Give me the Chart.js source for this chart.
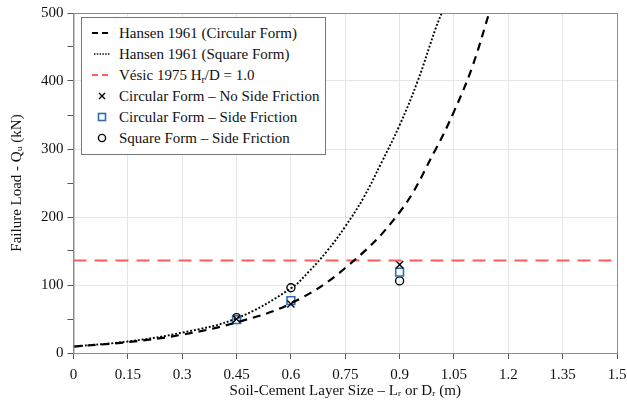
<!DOCTYPE html>
<html lang="en">
<head>
<meta charset="UTF-8">
<title>Failure load vs soil-cement layer size</title>
<script src="https://cdn.jsdelivr.net/npm/chart.js@4.4.1/dist/chart.umd.min.js"></script>
<style>
    body { margin: 0; background: #fff; }
    #wrap { position: relative; width: 627px; height: 400px; }
    #legend {
        position: absolute; left: 81px; top: 17px; width: 243px; height: 136px;
        border: 1px solid #777; background: #fff;
        font-family: "Liberation Serif", serif; font-size: 15px; color: #111;
    }
    #legend .row { position: absolute; left: 0; height: 20px; line-height: 20px; white-space: nowrap; }
    #legend svg { position: absolute; left: 10px; top: 4px; }
    #legend span { position: absolute; left: 37px; }
    #legend sub { font-size: 10px; vertical-align: -3px; line-height: 0; }
</style>
</head>
<body>
<div id="wrap">
    <canvas id="myChart" width="627" height="400"></canvas>
    <div id="legend"></div>
</div>
<script>
// layer size (m) and Hansen 1961 curves (kN)
const circX = [0, 0.15, 0.3, 0.45, 0.6, 0.75, 0.9, 1.0, 1.05, 1.1, 1.15]
const circQ = [9.5, 16, 27, 45, 73, 125, 207, 300, 355, 420, 505]
const sqX = [0, 0.15, 0.3, 0.45, 0.6, 0.65, 0.7, 0.75, 0.8, 0.85, 0.9, 0.95, 1.0, 1.02]
const sqQ = [9.5, 17, 30, 51, 95, 120, 150, 186, 228, 280, 335, 400, 478, 505]
const vesicQ = 136

// test results
const testX = [0.45, 0.6, 0.9]
const noFriction = [50, 72, 130]
const circFriction = [49, 77, 119]
const squareFriction = [52, 96, 106]

const xTicks = [0, 0.15, 0.3, 0.45, 0.6, 0.75, 0.9, 1.05, 1.2, 1.35, 1.5]
const yTicks = [0, 50, 100, 150, 200, 250, 300, 350, 400, 450, 500]

const labels = [
    'Hansen 1961 (Circular Form)',
    'Hansen 1961 (Square Form)',
    'Vésic 1975 H<sub>r</sub>/D = 1.0',
    'Circular Form – No Side Friction',
    'Circular Form – Side Friction',
    'Square Form – Side Friction'
]

const pts = (xs, ys) => xs.map((x, i) => ({ x: x, y: ys[i] }))

const serif = { family: '"Liberation Serif", serif', size: 15 }

const frame = {
    id: 'frame',
    afterDraw(chart) {
        const a = chart.chartArea, c = chart.ctx
        c.save()
        c.strokeStyle = '#8c8c8c'
        c.lineWidth = 1
        c.strokeRect(a.left + 0.5, a.top + 0.5, a.right - a.left, a.bottom - a.top)
        c.restore()
    }
}

var ctx = document.getElementById('myChart').getContext('2d')
var myChart = new Chart(ctx, {
    type: 'scatter',
    data: {
        datasets: [
            { data: pts(circX, circQ), showLine: true, tension: 0.4, borderColor: '#000', borderWidth: 2.2, borderDash: [8, 6], pointRadius: 0 },
            { data: pts(sqX, sqQ), showLine: true, tension: 0.4, borderColor: '#000', borderWidth: 1.9, borderDash: [1.9, 1.9], pointRadius: 0 },
            { data: [{ x: 0, y: vesicQ }, { x: 1.5, y: vesicQ }], showLine: true, borderColor: '#ff5b5b', borderWidth: 1.8, borderDash: [13, 8], pointRadius: 0 },
            { data: pts(testX, noFriction), pointStyle: 'crossRot', pointRadius: 5, borderColor: '#000', borderWidth: 1.4 },
            { data: pts(testX, circFriction), pointStyle: 'rect', pointRadius: 5.5, borderColor: '#2e6db4', backgroundColor: '#fff', borderWidth: 1.6 },
            { data: pts(testX, squareFriction), pointStyle: 'circle', pointRadius: 4, borderColor: '#000', backgroundColor: 'rgba(255,255,255,0)', borderWidth: 1.4 }
        ]
    },
    options: {
        responsive: false,
        animation: false,
        layout: { padding: { top: 8, right: 0, left: 8, bottom: 0 } },
        plugins: { legend: { display: false }, tooltip: { enabled: false } },
        scales: {
            x: {
                type: 'linear', min: 0, max: 1.5,
                afterBuildTicks: s => { s.ticks = xTicks.map(v => ({ value: v })) },
                afterFit: s => { s.paddingRight = 10 },
                ticks: { font: serif, color: '#111', maxRotation: 0, padding: 7, callback: v => String(v) },
                grid: { color: '#e6e6e6', tickColor: '#555', tickLength: 6 },
                border: { color: '#8c8c8c' },
                title: { display: true, text: 'Soil-Cement Layer Size – Lᵣ or Dᵣ (m)', font: serif, color: '#111', padding: { top: -9, bottom: 0 } }
            },
            y: {
                type: 'linear', min: 0, max: 500,
                afterBuildTicks: s => { s.ticks = yTicks.map(v => ({ value: v })) },
                ticks: { font: serif, color: '#111', padding: 4, callback: v => v % 100 === 0 ? String(v) : '' },
                grid: { color: c => c.tick && c.tick.value % 100 === 0 ? '#e6e6e6' : 'rgba(0,0,0,0)', tickColor: '#555', tickLength: 6 },
                border: { color: '#8c8c8c' },
                title: { display: true, text: 'Failure Load - Qᵤ (kN)', font: serif, color: '#111', padding: { top: 0, bottom: 11 } }
            }
        }
    },
    plugins: [frame]
})

// legend box drawn over the plot, entries follow the datasets
const icons = [
    '<line x1="0" y1="6" x2="20" y2="6" stroke="#000" stroke-width="2" stroke-dasharray="6,4"/>',
    '<line x1="2" y1="6" x2="18" y2="6" stroke="#000" stroke-width="1.4" stroke-dasharray="1.4,1.4"/>',
    '<line x1="0" y1="6" x2="20" y2="6" stroke="#ff5b5b" stroke-width="1.8" stroke-dasharray="6,4"/>',
    '<path d="M7 3 L13 9 M13 3 L7 9" stroke="#000" stroke-width="1.4"/>',
    '<rect x="6.5" y="2.5" width="7" height="7" fill="#fff" stroke="#2e6db4" stroke-width="1.6"/>',
    '<circle cx="10" cy="6" r="3.6" fill="none" stroke="#000" stroke-width="1.4"/>'
]
const legend = document.getElementById('legend')
labels.forEach((t, i) => {
    const row = document.createElement('div')
    row.className = 'row'
    row.style.top = (5 + i * 21) + 'px'
    row.innerHTML = '<svg width="20" height="12">' + icons[i] + '</svg><span>' + t + '</span>'
    legend.appendChild(row)
})
</script>
</body>
</html>
